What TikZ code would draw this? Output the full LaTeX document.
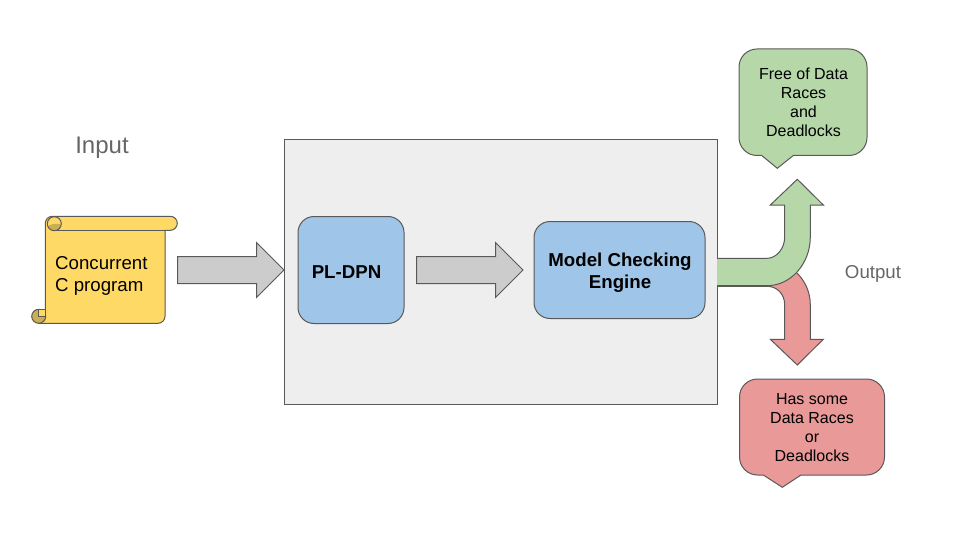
\documentclass[tikz,border=0pt]{standalone}
\usepackage{fontspec}
\usetikzlibrary{shapes.arrows}
\setmainfont{Liberation Sans}

\definecolor{edgegray}{HTML}{595959}
\definecolor{panelgray}{HTML}{EEEEEE}
\definecolor{arrowgray}{HTML}{CCCCCC}
\definecolor{engineblue}{HTML}{9FC5E8}
\definecolor{scrollyellow}{HTML}{FFD966}
\definecolor{scrolldark}{HTML}{CCAE52}
\definecolor{okgreen}{HTML}{B6D7A8}
\definecolor{badred}{HTML}{EA9999}
\definecolor{labelgray}{HTML}{666666}

\tikzset{
  outline/.style = {draw = edgegray, line width = 1pt},
  engine/.style = {outline, fill = engineblue, rounded corners = 16pt},
  enginetext/.style = {align = center, font = \fontsize{18.67}{22}\selectfont\bfseries},
  flow/.style = {outline, fill = arrowgray, single arrow, single arrow head extend = 14pt,
    single arrow tip angle = 90, single arrow head indent = 0pt, inner sep = 0pt,
    text height = 26pt, text depth = 0pt, text width = 0pt,
    minimum height = 106.5pt, minimum width = 54pt, anchor = tail},
  verdict/.style = {align = center, font = \fontsize{16}{19}\selectfont},
  caption/.style = {text = labelgray}
}

\begin{document}
\begin{tikzpicture}[x = 1pt, y = -1pt]
    \useasboundingbox (0,0) rectangle (960,540);

    \node[outline, fill = panelgray, minimum width = 433pt, minimum height = 265pt] (panel) at (500.5, 272) {};

    % input scroll
    \draw[outline, fill = scrollyellow, rounded corners = 7pt]
      (45.3,316) -- (45.3,216.3) -- (177.3,216.3) -- (177.3,230.3) [sharp corners] -- (165,230.3)
      [rounded corners = 7pt] -- (165,323.3) [sharp corners] -- (39,323.3) -- cycle;
    \fill[scrolldark] (47.8,226.5) .. controls (50,224) and (56,223) .. (61.2,224.5)
      .. controls (61,228) and (58,230.3) .. (54.3,230.3) .. controls (51,230.3) and (48.5,228.8) .. (47.8,226.5);
    \draw[outline] (54.3,223.7) circle[radius = 7pt];
    \draw[outline] (54.3,230.3) -- (165,230.3);
    \draw[outline, fill = scrolldark] (38.7,316.3) circle[radius = 7pt];
    \draw[outline, fill = scrollyellow] (38.7,316.3) -- (38.7,309.3) -- (45.3,309.3) -- (45.3,316.3) -- cycle;
    \node[align = left, anchor = west, font = \fontsize{18.67}{22}\selectfont, inner sep = 0pt] (program) at (55, 276) {Concurrent\\C program};

    \node[caption, font = \fontsize{24}{28}\selectfont] (input) at (102, 148) {Input};
    \node[caption, font = \fontsize{18.67}{22}\selectfont] (output) at (873, 274) {Output};

    \node[engine, minimum width = 106pt, minimum height = 107pt,
      label = {[enginetext, xshift = -4.5pt, yshift = -2pt]center:PL-DPN}] (plDpn) at (351, 270) {};
    \node[engine, minimum width = 171pt, minimum height = 97pt,
      label = {[enginetext, xshift = 0.5pt, yshift = -2.5pt]center:Model Checking\\Engine}] (checker) at (619.5, 270) {};

    \node[flow] (toDpn) at (177, 270) {};
    \node[flow] (toChecker) at (416, 270) {};

    % output arrows
    \draw[outline, fill = badred]
      (717,286.3) -- (767,286.3) .. controls (777,286.3) and (784.7,294) .. (784.7,305)
      -- (784.7,339.3) -- (770.3,339.3) -- (797.3,365) -- (823.3,339.3) -- (810.3,339.3)
      -- (810.3,305) .. controls (810.3,292) and (805,281) .. (796.7,272.7);
    \draw[outline, fill = okgreen]
      (717,258.3) -- (767,258.3) .. controls (776.5,258.3) and (784.7,248.5) .. (784.7,237)
      -- (784.7,205) -- (770.3,205) -- (797.3,179.3) -- (823.3,205) -- (810.3,205)
      -- (810.3,237) .. controls (810.3,263.5) and (791,285.7) .. (767,285.7) -- (717,285.7);

    % verdict bubbles
    \draw[outline, fill = okgreen, rounded corners = 18pt]
      (739,49) -- (867,49) -- (867,155.5) [sharp corners] -- (793.3,155.5) -- (777.3,168.3) -- (761.7,155.5)
      [rounded corners = 18pt] -- (739,155.5) -- cycle;
    \node[verdict] (free) at (803.5, 102.5) {Free of Data\\Races\\and\\Deadlocks};

    \draw[outline, fill = badred, rounded corners = 18pt]
      (739.5,379) -- (884.5,379) -- (884.5,475) [sharp corners] -- (801,475) -- (782.3,487.3) -- (763.3,475)
      [rounded corners = 18pt] -- (739.5,475) -- cycle;
    \node[verdict] (races) at (812, 427.5) {Has some\\Data Races\\or\\Deadlocks};
\end{tikzpicture}
\end{document}
